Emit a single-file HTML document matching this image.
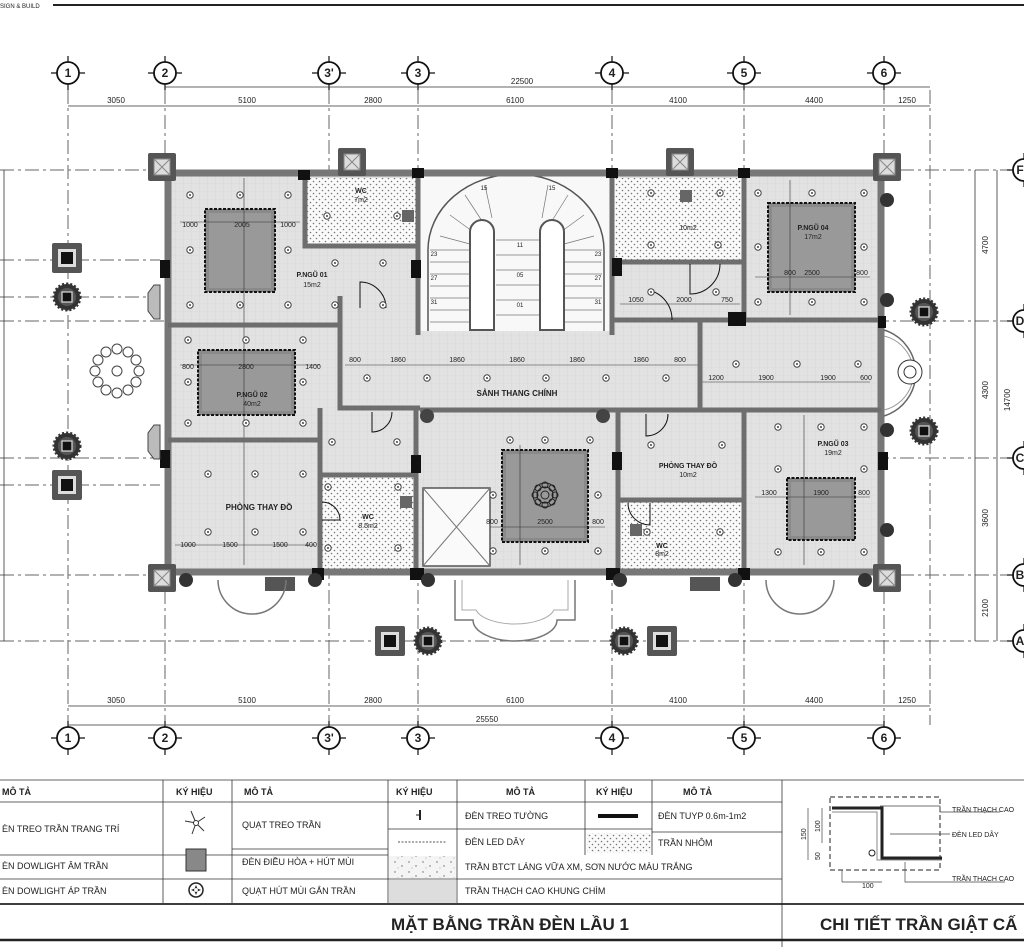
<!DOCTYPE html>
<html><head><meta charset="utf-8"><style>
html,body{margin:0;padding:0;background:#fff;width:1024px;height:947px;overflow:hidden}
svg{display:block}
text{font-family:"Liberation Sans","DejaVu Sans",sans-serif;fill:#222}
</style></head><body>
<svg width="1024" height="947" viewBox="0 0 1024 947" xmlns="http://www.w3.org/2000/svg">
<defs>
<pattern id="dots" width="6" height="6" patternUnits="userSpaceOnUse"><rect width="6" height="6" fill="#fafafa"/><circle cx="1.5" cy="1.5" r="0.8" fill="#777"/><circle cx="4.5" cy="4.5" r="0.8" fill="#777"/></pattern>
<pattern id="grid" width="8" height="8" patternUnits="userSpaceOnUse"><rect width="8" height="8" fill="#e2e2e2"/><path d="M8 0V8H0" fill="none" stroke="#d2d2d2" stroke-width="0.6"/></pattern>
<pattern id="spk" width="14" height="10" patternUnits="userSpaceOnUse"><rect width="14" height="10" fill="#f4f4f4"/><circle cx="3" cy="2" r="0.7" fill="#666"/><circle cx="10" cy="6" r="0.7" fill="#666"/><circle cx="6" cy="8" r="0.5" fill="#888"/></pattern>
<g id="lt"><circle r="3.2" fill="#fff" stroke="#444" stroke-width="1"/><circle r="1" fill="#444"/></g>
<g id="sun"><circle r="13" fill="#333" stroke="#333" stroke-width="3" stroke-dasharray="2 2"/><circle r="9" fill="#555"/><rect x="-5" y="-5" width="10" height="10" fill="#111" stroke="#ddd" stroke-width="1.2"/></g>
<g id="pil"><rect x="-15" y="-15" width="30" height="30" fill="#555" rx="2"/><rect x="-9" y="-9" width="18" height="18" fill="#ddd"/><rect x="-6" y="-6" width="12" height="12" fill="#111"/></g>
<g id="corner"><rect x="-14" y="-14" width="28" height="28" fill="#555" rx="2"/><rect x="-8" y="-8" width="16" height="16" fill="#ddd" stroke="#888"/><path d="M-8-8L8 8M8-8L-8 8" stroke="#888"/></g>
<g id="gc"><circle r="11" fill="#fff" stroke="#111" stroke-width="1.8"/><path d="M-17 0h6M11 0h6M0-17v6M0 11v6" stroke="#111" stroke-width="1.2"/></g>
</defs>

<!-- header -->
<text x="0" y="8" font-size="6">SIGN &amp; BUILD</text>
<line x1="53" y1="5" x2="1024" y2="5" stroke="#222" stroke-width="2"/>

<!-- grid lines -->
<g stroke="#666" stroke-width="1" stroke-dasharray="14 4 3 4" fill="none">
<line x1="68" y1="90" x2="68" y2="725"/><line x1="165" y1="90" x2="165" y2="725"/><line x1="329" y1="90" x2="329" y2="725"/><line x1="418" y1="90" x2="418" y2="725"/><line x1="612" y1="90" x2="612" y2="725"/><line x1="744" y1="90" x2="744" y2="725"/><line x1="884" y1="90" x2="884" y2="725"/><line x1="930" y1="90" x2="930" y2="725"/>
<line x1="0" y1="170" x2="1010" y2="170"/><line x1="0" y1="260" x2="160" y2="260"/><line x1="0" y1="297" x2="160" y2="297"/><line x1="0" y1="321" x2="1010" y2="321"/><line x1="0" y1="458" x2="1010" y2="458"/><line x1="0" y1="485" x2="160" y2="485"/><line x1="0" y1="575" x2="1010" y2="575"/><line x1="0" y1="641" x2="1010" y2="641"/>
</g>

<!-- grid circles -->
<g font-size="12" text-anchor="middle" font-weight="bold">
<use href="#gc" x="68" y="73"/><text x="68" y="77">1</text>
<use href="#gc" x="165" y="73"/><text x="165" y="77">2</text>
<use href="#gc" x="329" y="73"/><text x="329" y="77">3'</text>
<use href="#gc" x="418" y="73"/><text x="418" y="77">3</text>
<use href="#gc" x="612" y="73"/><text x="612" y="77">4</text>
<use href="#gc" x="744" y="73"/><text x="744" y="77">5</text>
<use href="#gc" x="884" y="73"/><text x="884" y="77">6</text>
<use href="#gc" x="68" y="738"/><text x="68" y="742">1</text>
<use href="#gc" x="165" y="738"/><text x="165" y="742">2</text>
<use href="#gc" x="329" y="738"/><text x="329" y="742">3'</text>
<use href="#gc" x="418" y="738"/><text x="418" y="742">3</text>
<use href="#gc" x="612" y="738"/><text x="612" y="742">4</text>
<use href="#gc" x="744" y="738"/><text x="744" y="742">5</text>
<use href="#gc" x="884" y="738"/><text x="884" y="742">6</text>
<use href="#gc" x="1024" y="170"/><text x="1020" y="174">F</text>
<use href="#gc" x="1024" y="321"/><text x="1020" y="325">D</text>
<use href="#gc" x="1024" y="458"/><text x="1020" y="462">C</text>
<use href="#gc" x="1024" y="575"/><text x="1020" y="579">B</text>
<use href="#gc" x="1024" y="641"/><text x="1020" y="645">A</text>
</g>

<!-- dimension lines -->
<g stroke="#333" stroke-width="0.8">
<line x1="165" y1="87" x2="930" y2="87"/><line x1="68" y1="106" x2="930" y2="106"/>
<line x1="68" y1="706" x2="930" y2="706"/><line x1="68" y1="725" x2="884" y2="725"/>
<line x1="4" y1="170" x2="4" y2="641"/><line x1="997" y1="170" x2="997" y2="641"/><line x1="975" y1="170" x2="975" y2="641"/>
</g>
<g font-size="8" text-anchor="middle">
<text x="522" y="84">22500</text>
<text x="116" y="103">3050</text><text x="247" y="103">5100</text><text x="373" y="103">2800</text><text x="515" y="103">6100</text><text x="678" y="103">4100</text><text x="814" y="103">4400</text><text x="907" y="103">1250</text>
<text x="116" y="703">3050</text><text x="247" y="703">5100</text><text x="373" y="703">2800</text><text x="515" y="703">6100</text><text x="678" y="703">4100</text><text x="814" y="703">4400</text><text x="907" y="703">1250</text>
<text x="487" y="722">25550</text>
<text transform="translate(988 245) rotate(-90)">4700</text>
<text transform="translate(988 390) rotate(-90)">4300</text>
<text transform="translate(1010 400) rotate(-90)">14700</text>
<text transform="translate(988 518) rotate(-90)">3600</text>
<text transform="translate(988 608) rotate(-90)">2100</text>
</g>

<!-- building floor -->
<rect x="165" y="170" width="719" height="405" fill="url(#grid)"/>
<!-- dotted rooms -->
<rect x="305" y="178" width="113" height="68" fill="url(#dots)"/>
<rect x="614" y="178" width="128" height="84" fill="url(#dots)"/>
<rect x="320" y="475" width="96" height="95" fill="url(#dots)"/>
<rect x="618" y="500" width="126" height="70" fill="url(#dots)"/>
<!-- stair zone -->
<rect x="420" y="176" width="190" height="155" fill="#f8f8f8"/>
<path d="M428 331V250A87 75 0 0 1 604 250V331" fill="none" stroke="#555" stroke-width="1.5"/>
<g stroke="#777" stroke-width="0.7">
<line x1="430" y1="250" x2="478" y2="250"/><line x1="430" y1="262" x2="478" y2="262"/><line x1="430" y1="274" x2="478" y2="274"/><line x1="430" y1="286" x2="478" y2="286"/><line x1="430" y1="298" x2="478" y2="298"/><line x1="430" y1="310" x2="478" y2="310"/><line x1="430" y1="322" x2="478" y2="322"/>
<line x1="555" y1="250" x2="602" y2="250"/><line x1="555" y1="262" x2="602" y2="262"/><line x1="555" y1="274" x2="602" y2="274"/><line x1="555" y1="286" x2="602" y2="286"/><line x1="555" y1="298" x2="602" y2="298"/><line x1="555" y1="310" x2="602" y2="310"/><line x1="555" y1="322" x2="602" y2="322"/>
<line x1="496" y1="240" x2="540" y2="240"/><line x1="496" y1="255" x2="540" y2="255"/><line x1="496" y1="270" x2="540" y2="270"/><line x1="496" y1="285" x2="540" y2="285"/><line x1="496" y1="300" x2="540" y2="300"/><line x1="496" y1="315" x2="540" y2="315"/>
<line x1="440" y1="236" x2="470" y2="244"/><line x1="450" y1="215" x2="476" y2="234"/><line x1="465" y1="195" x2="484" y2="224"/><line x1="485" y1="185" x2="492" y2="218"/><line x1="548" y1="185" x2="542" y2="218"/><line x1="568" y1="195" x2="550" y2="224"/><line x1="584" y1="215" x2="558" y2="234"/><line x1="594" y1="236" x2="564" y2="244"/>
</g>
<path d="M470 330V232a12 12 0 0 1 24 0V330Z" fill="#fff" stroke="#555" stroke-width="2"/>
<path d="M540 330V232a12 12 0 0 1 24 0V330Z" fill="#fff" stroke="#555" stroke-width="2"/>
<g font-size="6" text-anchor="middle"><text x="434" y="256">23</text><text x="434" y="280">27</text><text x="434" y="304">31</text><text x="598" y="256">23</text><text x="598" y="280">27</text><text x="598" y="304">31</text><text x="520" y="247">11</text><text x="520" y="277">05</text><text x="520" y="307">01</text><text x="484" y="190">15</text><text x="552" y="190">15</text></g>

<!-- gray ceiling rects -->
<g fill="#8a8a8a" stroke="#111" stroke-width="2" stroke-dasharray="3 1.5">
<rect x="205" y="209" width="70" height="83"/>
<rect x="198" y="350" width="97" height="65"/>
<rect x="502" y="450" width="86" height="92"/>
<rect x="768" y="203" width="87" height="89"/>
<rect x="787" y="478" width="68" height="62"/>
</g>
<g fill="#999"><rect x="209" y="213" width="62" height="75"/><rect x="202" y="354" width="89" height="57"/><rect x="506" y="454" width="78" height="84"/><rect x="772" y="207" width="79" height="81"/><rect x="791" y="482" width="60" height="54"/></g>
<g stroke="#333" stroke-width="0.6"><line x1="180" y1="222" x2="300" y2="222"/><line x1="244" y1="178" x2="244" y2="565"/><line x1="180" y1="365" x2="320" y2="365"/><line x1="480" y1="527" x2="605" y2="527"/><line x1="520" y1="445" x2="520" y2="565"/><line x1="755" y1="277" x2="870" y2="277"/><line x1="790" y1="180" x2="790" y2="315"/><line x1="755" y1="497" x2="870" y2="497"/><line x1="804" y1="415" x2="804" y2="565"/><line x1="345" y1="365" x2="700" y2="365"/><line x1="700" y1="382" x2="870" y2="382"/><line x1="620" y1="304" x2="740" y2="304"/><line x1="175" y1="545" x2="315" y2="545"/></g>

<!-- rosette center -->
<g transform="translate(545 495)" fill="none" stroke="#222" stroke-width="1"><circle r="12"/><circle r="8"/><circle r="4"/><circle r="3" cx="0" cy="-10"/><circle r="3" cx="10" cy="0"/><circle r="3" cx="0" cy="10"/><circle r="3" cx="-10" cy="0"/><circle r="3" cx="7" cy="7"/><circle r="3" cx="-7" cy="7"/><circle r="3" cx="7" cy="-7"/><circle r="3" cx="-7" cy="-7"/></g>

<!-- elevator -->
<rect x="423" y="488" width="67" height="78" fill="#fafafa" stroke="#555" stroke-width="1.5"/>
<path d="M423 488L490 566M490 488L423 566" stroke="#777"/>

<!-- walls -->
<g fill="none" stroke="#777" stroke-width="7">
<rect x="168" y="173" width="713" height="399"/>
</g>
<g fill="none" stroke="#6e6e6e" stroke-width="5">
<path d="M168 325H340V296M305 176V246H418"/>
<path d="M340 296V325M418 176V335M340 325V408H420"/>
<path d="M168 440H320V408M320 440V570M320 475H416M416 408V570"/>
<path d="M612 176V335M612 262H744V320M744 176V320M700 320H881M612 320H700V410"/>
<path d="M612 410H881M700 410V330M744 410V570M618 410V570M618 500H744"/>
<path d="M420 410H612"/>
</g>
<g stroke="#111" stroke-width="1" fill="none">
<path d="M360 308v-26a26 26 0 0 1 26 26"/><path d="M372 412v20a20 20 0 0 0 20-20"/><path d="M322 520h18a18 18 0 0 0-18-18"/><path d="M646 414v22a22 22 0 0 0 22-22"/><path d="M650 503v22a22 22 0 0 1-22-22"/><path d="M690 264v30a30 30 0 0 0 30-30"/><path d="M648 290a30 30 0 0 1 24 30"/>
</g>

<!-- black columns -->
<g fill="#111">
<rect x="160" y="165" width="12" height="12"/><rect x="877" y="165" width="12" height="12"/><rect x="160" y="568" width="12" height="12"/><rect x="877" y="568" width="12" height="12"/>
<rect x="298" y="170" width="12" height="10"/><rect x="412" y="168" width="12" height="10"/><rect x="606" y="168" width="12" height="10"/><rect x="738" y="168" width="12" height="10"/>
<rect x="411" y="260" width="10" height="18"/><rect x="160" y="260" width="10" height="18"/><rect x="160" y="450" width="10" height="18"/><rect x="411" y="455" width="10" height="18"/>
<rect x="612" y="258" width="10" height="18"/><rect x="728" y="312" width="18" height="14"/><rect x="612" y="452" width="10" height="18"/><rect x="878" y="452" width="10" height="18"/><rect x="878" y="316" width="8" height="12"/>
<rect x="410" y="568" width="14" height="12"/><rect x="606" y="568" width="14" height="12"/><rect x="738" y="568" width="12" height="12"/><rect x="312" y="568" width="12" height="12"/>
<circle cx="427" cy="416" r="7" fill="#444"/><circle cx="603" cy="416" r="7" fill="#444"/>
</g>
<g fill="#666"><rect x="402" y="210" width="12" height="12"/><rect x="680" y="190" width="12" height="12"/><rect x="400" y="496" width="12" height="12"/><rect x="630" y="524" width="12" height="12"/></g>

<!-- corner pilasters -->
<use href="#corner" x="162" y="167"/><use href="#corner" x="887" y="167"/><use href="#corner" x="162" y="578"/><use href="#corner" x="887" y="578"/>
<use href="#corner" x="352" y="162"/><use href="#corner" x="680" y="162"/>
<rect x="265" y="577" width="30" height="14" fill="#555"/><rect x="690" y="577" width="30" height="14" fill="#555"/>

<!-- exterior fixtures -->
<use href="#pil" x="67" y="258"/><use href="#sun" x="67" y="297"/><use href="#sun" x="67" y="446"/><use href="#pil" x="67" y="485"/>
<use href="#pil" x="390" y="641"/><use href="#sun" x="428" y="641"/><use href="#sun" x="624" y="641"/><use href="#pil" x="662" y="641"/>
<use href="#sun" x="924" y="312"/><use href="#sun" x="924" y="431"/>
<g transform="translate(117 371)" fill="#fff" stroke="#444" stroke-width="1"><circle r="5"/>
<circle cx="0" cy="-22" r="5"/><circle cx="11" cy="-19" r="5"/><circle cx="19" cy="-11" r="5"/><circle cx="22" cy="0" r="5"/><circle cx="19" cy="11" r="5"/><circle cx="11" cy="19" r="5"/><circle cx="0" cy="22" r="5"/><circle cx="-11" cy="19" r="5"/><circle cx="-19" cy="11" r="5"/><circle cx="-22" cy="0" r="5"/><circle cx="-19" cy="-11" r="5"/><circle cx="-11" cy="-19" r="5"/></g>
<path d="M160 285h-6l-6 8v18l6 8h6z" fill="#bbb" stroke="#444"/><path d="M160 425h-6l-6 8v18l6 8h6z" fill="#bbb" stroke="#444"/>
<!-- right bay -->
<path d="M884 330a45 45 0 0 1 0 86" fill="none" stroke="#666" stroke-width="1.5"/><path d="M884 336a38 38 0 0 1 0 74" fill="none" stroke="#999"/>
<g transform="translate(910 372)" fill="#fff" stroke="#333"><circle r="12"/><circle r="6"/></g>
<!-- bottom porches -->
<path d="M218 580a34 34 0 0 0 68 0" fill="none" stroke="#777" stroke-width="1.5"/><path d="M766 580a34 34 0 0 0 68 0" fill="none" stroke="#777" stroke-width="1.5"/>
<path d="M455 580v40h18a40 20 0 0 0 84 0h18v-40" fill="none" stroke="#777" stroke-width="1.5"/>
<path d="M462 580v30h14a40 18 0 0 0 78 0h14v-30" fill="none" stroke="#aaa"/>
<g fill="#333"><circle cx="186" cy="580" r="7"/><circle cx="315" cy="580" r="7"/><circle cx="428" cy="580" r="7"/><circle cx="620" cy="580" r="7"/><circle cx="735" cy="580" r="7"/><circle cx="865" cy="580" r="7"/><circle cx="887" cy="200" r="7"/><circle cx="887" cy="300" r="7"/><circle cx="887" cy="430" r="7"/><circle cx="887" cy="530" r="7"/></g>

<!-- lights -->
<g>
<use href="#lt" x="190" y="195"/><use href="#lt" x="240" y="195"/><use href="#lt" x="288" y="195"/><use href="#lt" x="190" y="250"/><use href="#lt" x="288" y="250"/><use href="#lt" x="190" y="305"/><use href="#lt" x="240" y="305"/><use href="#lt" x="288" y="305"/><use href="#lt" x="335" y="263"/><use href="#lt" x="383" y="263"/><use href="#lt" x="335" y="305"/><use href="#lt" x="383" y="305"/>
<use href="#lt" x="188" y="340"/><use href="#lt" x="246" y="340"/><use href="#lt" x="303" y="340"/><use href="#lt" x="188" y="382"/><use href="#lt" x="303" y="382"/><use href="#lt" x="188" y="423"/><use href="#lt" x="246" y="423"/><use href="#lt" x="303" y="423"/>
<use href="#lt" x="208" y="474"/><use href="#lt" x="255" y="474"/><use href="#lt" x="303" y="474"/><use href="#lt" x="208" y="532"/><use href="#lt" x="255" y="532"/><use href="#lt" x="303" y="532"/><use href="#lt" x="332" y="442"/><use href="#lt" x="397" y="442"/>
<use href="#lt" x="328" y="487"/><use href="#lt" x="398" y="487"/><use href="#lt" x="328" y="548"/><use href="#lt" x="398" y="548"/><use href="#lt" x="327" y="216"/><use href="#lt" x="397" y="216"/>
<use href="#lt" x="367" y="378"/><use href="#lt" x="427" y="378"/><use href="#lt" x="487" y="378"/><use href="#lt" x="546" y="378"/><use href="#lt" x="606" y="378"/><use href="#lt" x="666" y="378"/>
<use href="#lt" x="510" y="440"/><use href="#lt" x="545" y="440"/><use href="#lt" x="590" y="440"/><use href="#lt" x="493" y="495"/><use href="#lt" x="598" y="495"/><use href="#lt" x="493" y="551"/><use href="#lt" x="545" y="551"/><use href="#lt" x="598" y="551"/>
<use href="#lt" x="651" y="193"/><use href="#lt" x="720" y="193"/><use href="#lt" x="651" y="245"/><use href="#lt" x="718" y="245"/><use href="#lt" x="651" y="292"/><use href="#lt" x="716" y="292"/>
<use href="#lt" x="758" y="193"/><use href="#lt" x="812" y="193"/><use href="#lt" x="864" y="193"/><use href="#lt" x="758" y="247"/><use href="#lt" x="864" y="247"/><use href="#lt" x="758" y="302"/><use href="#lt" x="812" y="302"/><use href="#lt" x="864" y="302"/>
<use href="#lt" x="736" y="364"/><use href="#lt" x="797" y="364"/><use href="#lt" x="858" y="364"/>
<use href="#lt" x="778" y="427"/><use href="#lt" x="821" y="427"/><use href="#lt" x="864" y="427"/><use href="#lt" x="778" y="469"/><use href="#lt" x="864" y="469"/><use href="#lt" x="778" y="552"/><use href="#lt" x="821" y="552"/><use href="#lt" x="864" y="552"/>
<use href="#lt" x="651" y="445"/><use href="#lt" x="722" y="445"/><use href="#lt" x="647" y="532"/><use href="#lt" x="720" y="532"/>
</g>

<!-- room labels -->
<g font-size="7" text-anchor="middle" font-weight="bold">
<text x="312" y="277">P.NGŨ 01</text><text x="312" y="287" font-weight="normal">15m2</text>
<text x="252" y="397">P.NGŨ 02</text><text x="252" y="406" font-weight="normal">40m2</text>
<text x="361" y="193">WC</text><text x="361" y="202" font-weight="normal">7m2</text>
<text x="517" y="396" font-size="8">SẢNH THANG CHÍNH</text>
<text x="259" y="510" font-size="8">PHÒNG THAY ĐỒ</text>
<text x="368" y="519">WC</text><text x="368" y="528" font-weight="normal">8.5m2</text>
<text x="688" y="468">PHÒNG THAY ĐỒ</text><text x="688" y="477" font-weight="normal">10m2</text>
<text x="662" y="548">WC</text><text x="662" y="556" font-weight="normal">8m2</text>
<text x="688" y="230" font-weight="normal">10m2</text>
<text x="813" y="230">P.NGŨ 04</text><text x="813" y="239" font-weight="normal">17m2</text>
<text x="833" y="446">P.NGŨ 03</text><text x="833" y="455" font-weight="normal">19m2</text>
</g>
<g font-size="7" text-anchor="middle">
<text x="190" y="227">1000</text><text x="242" y="227">2005</text><text x="288" y="227">1000</text>
<text x="188" y="369">800</text><text x="246" y="369">2800</text><text x="313" y="369">1400</text>
<text x="355" y="362">800</text><text x="398" y="362">1860</text><text x="457" y="362">1860</text><text x="517" y="362">1860</text><text x="577" y="362">1860</text><text x="641" y="362">1860</text><text x="680" y="362">800</text>
<text x="716" y="380">1200</text><text x="766" y="380">1900</text><text x="828" y="380">1900</text><text x="866" y="380">600</text>
<text x="790" y="275">800</text><text x="812" y="275">2500</text><text x="862" y="275">800</text>
<text x="636" y="302">1050</text><text x="684" y="302">2000</text><text x="727" y="302">750</text>
<text x="492" y="524">800</text><text x="545" y="524">2500</text><text x="598" y="524">800</text>
<text x="769" y="495">1300</text><text x="821" y="495">1900</text><text x="864" y="495">800</text>
<text x="188" y="547">1000</text><text x="230" y="547">1500</text><text x="280" y="547">1500</text><text x="311" y="547">400</text>
</g>

<!-- legend table -->
<g stroke="#333" stroke-width="0.8" fill="none">
<line x1="0" y1="780" x2="1024" y2="780"/>
<line x1="0" y1="802" x2="782" y2="802"/>
<line x1="0" y1="855" x2="388" y2="855"/><line x1="232" y1="849" x2="388" y2="849"/>
<line x1="388" y1="829" x2="652" y2="829"/><line x1="652" y1="832" x2="782" y2="832"/>
<line x1="0" y1="879" x2="782" y2="879"/>
<line x1="163" y1="780" x2="163" y2="903"/><line x1="232" y1="780" x2="232" y2="903"/><line x1="388" y1="780" x2="388" y2="903"/><line x1="457" y1="780" x2="457" y2="903"/><line x1="585" y1="780" x2="585" y2="855"/><line x1="652" y1="780" x2="652" y2="855"/><line x1="782" y1="780" x2="782" y2="947"/>
</g>
<line x1="0" y1="904" x2="1024" y2="904" stroke="#222" stroke-width="1.8"/>
<line x1="0" y1="940" x2="1024" y2="940" stroke="#222" stroke-width="2.5"/>
<rect x="389" y="856" width="67" height="22" fill="url(#spk)"/>
<rect x="389" y="880" width="67" height="23" fill="#ddd"/>
<rect x="587" y="833" width="64" height="20" fill="url(#dots)"/>
<rect x="186" y="849" width="20" height="22" fill="#888" stroke="#333"/>
<g transform="translate(196 890)"><circle r="7" fill="#fff" stroke="#222" stroke-width="1.5"/><path d="M0-5L2 0 0 5-2 0Z M-5 0L0 2 5 0 0-2Z" fill="#222"/></g>
<g transform="translate(196 823)" stroke="#333" fill="#fff"><path d="M0 0L-5-12M0 0L9-6M0 0L8 8M0 0L-4 11M0 0L-11 -2"/><circle r="2.5"/></g>
<path d="M420 810v10" stroke="#222" stroke-width="2"/><path d="M416 815h4" stroke="#222"/>
<line x1="398" y1="842" x2="446" y2="842" stroke="#555" stroke-dasharray="2 1.5"/>
<rect x="598" y="814" width="40" height="4" fill="#111"/>
<g font-size="9">
<text x="2" y="795" font-weight="bold">MÔ TẢ</text><text x="176" y="795" font-weight="bold">KÝ HIỆU</text><text x="244" y="795" font-weight="bold">MÔ TẢ</text><text x="396" y="795" font-weight="bold">KÝ HIỆU</text><text x="506" y="795" font-weight="bold">MÔ TẢ</text><text x="596" y="795" font-weight="bold">KÝ HIỆU</text><text x="683" y="795" font-weight="bold">MÔ TẢ</text>
<text x="2" y="832">ÈN TREO TRẦN TRANG TRÍ</text><text x="242" y="828">QUẠT TREO TRẦN</text><text x="465" y="819">ĐÈN TREO TƯỜNG</text><text x="658" y="819">ĐÈN TUYP 0.6m-1m2</text>
<text x="465" y="845">ĐÈN LED DÂY</text><text x="658" y="846">TRẦN NHÔM</text>
<text x="2" y="869">ÈN DOWLIGHT ÂM TRẦN</text><text x="242" y="865">ĐÈN ĐIỀU HÒA + HÚT MÙI</text><text x="465" y="870">TRẦN BTCT LÁNG VỮA XM, SƠN NƯỚC MÀU TRẮNG</text>
<text x="2" y="894">ÈN DOWLIGHT ÁP TRẦN</text><text x="242" y="894">QUẠT HÚT MÙI GẮN TRẦN</text><text x="465" y="894">TRẦN THẠCH CAO KHUNG CHÌM</text>
</g>
<text x="510" y="930" font-size="17" font-weight="bold" text-anchor="middle">MẶT BẰNG TRẦN ĐÈN LẦU 1</text>
<text x="820" y="930" font-size="17" font-weight="bold">CHI TIẾT TRẦN GIẬT CẤ</text>
<!-- detail -->
<rect x="830" y="797" width="110" height="73" fill="none" stroke="#222" stroke-dasharray="5 3"/>
<path d="M832 808h50v50h60" fill="none" stroke="#222" stroke-width="3"/>
<path d="M832 812h45v48h65" fill="none" stroke="#888" stroke-width="1"/>
<circle cx="872" cy="853" r="3" fill="none" stroke="#222"/>
<g stroke="#444" stroke-width="0.7" fill="none"><path d="M880 806h60v6h60M890 834h60M905 862v20h100M808 808v52M822 808v35M842 870v12M842 882h40"/></g>
<g font-size="7"><text x="952" y="812">TRẦN THẠCH CAO</text><text x="952" y="837">ĐÈN LED DÂY</text><text x="952" y="881">TRẦN THẠCH CAO</text><text x="862" y="888">100</text>
<text transform="translate(806 840) rotate(-90)">150</text><text transform="translate(820 832) rotate(-90)">100</text><text transform="translate(820 860) rotate(-90)">50</text></g>
</svg>
</body></html>
